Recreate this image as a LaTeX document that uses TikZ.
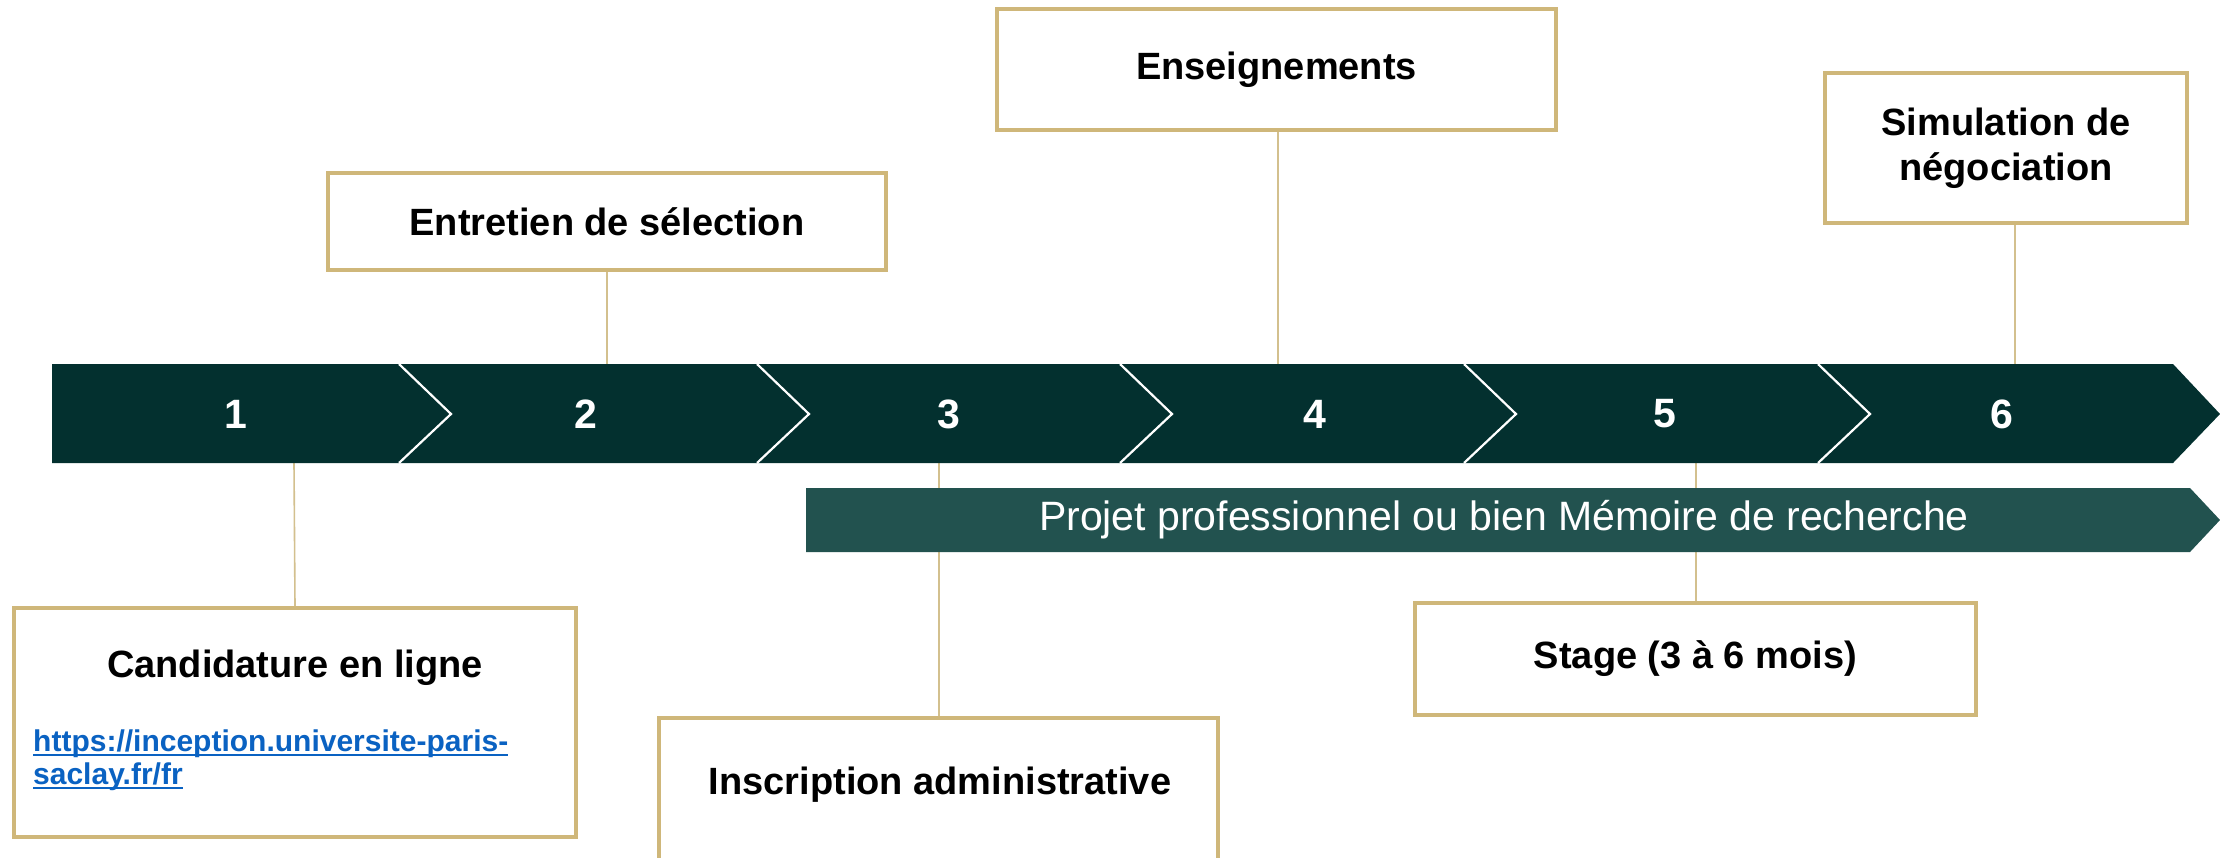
\documentclass[tikz,border=0pt]{standalone}
\usepackage{fontspec}
\setmainfont{Liberation Sans}
\usetikzlibrary{calc}
\definecolor{bardark}{HTML}{03302F}
\definecolor{barmid}{HTML}{22524F}
\definecolor{gold}{HTML}{CFB77A}
\definecolor{goldline}{HTML}{D3C08E}
\definecolor{linkblue}{HTML}{0A62C2}
\begin{document}
\begin{tikzpicture}[x=1pt,y=-1pt,
  box/.style={draw=gold, line width=4pt, fill=white, rectangle, inner sep=0pt,
    align=center, font=\fontsize{38}{45}\selectfont\bfseries},
  conn/.style={draw=goldline, line width=1.6pt},
  num/.style={text=white, font=\fontsize{41}{48}\selectfont\bfseries},
  sepline/.style={draw=white, line width=2.2pt},
  label/.style={font=\fontsize{38}{45}\selectfont\bfseries, inner sep=0pt},
  urltext/.style={inner sep=0pt, anchor=base west, text=linkblue,
    font=\fontsize{30}{33}\selectfont\bfseries},
  uline/.style={draw=linkblue, line width=2.5pt},
]
\clip (0,0) rectangle (2220,857);
\fill[white] (0,0) rectangle (2220,857);

% boxes
\node[box, minimum width=558, minimum height=97] (entretien) at (607,221.5) {Entretien de sélection};
\node[box, minimum width=559, minimum height=121] (enseign) at (1276.5,69.5) {Enseignements};
\node[box, minimum width=362, minimum height=150] (simul) at (2006,148) {Simulation de\\négociation};
\node[box, minimum width=562, minimum height=229] (candid) at (295,722.5) {};
\node[box, minimum width=559, minimum height=162] (inscr) at (938.5,799) {};
\node[box, minimum width=561, minimum height=112] (stage) at (1695.5,659) {Stage (3 à 6 mois)};

\node[label] (candidtitle) at (295,668) {Candidature en ligne};
\node[urltext] (url1) at (33,751) {https://inception.universite-paris-};
\node[urltext] (url2) at (33,784) {saclay.fr/fr};
\draw[uline] ([yshift=-4]url1.base west) -- ([yshift=-4]url1.base east);
\draw[uline] ([yshift=-4]url2.base west) -- ([yshift=-4]url2.base east);
\node[label] (inscrtext) at (940,785) {Inscription administrative};

% anchor points on the bars
\coordinate (c1) at (294,463);
\coordinate (c2) at (607,364);
\coordinate (c3) at (939,463);
\coordinate (c4) at (1278,364);
\coordinate (c5) at (1696,463);
\coordinate (c6) at (2015,364);

% connectors
\draw[conn] (candid.north) -- (c1);
\draw[conn] (entretien.south) -- (c2);
\draw[conn] (inscr.north -| c3) -- (c3);
\draw[conn] (enseign.south -| c4) -- (c4);
\draw[conn] (stage.north -| c5) -- (c5);
\draw[conn] (c6 |- simul.south) -- (c6);

% main bar
\fill[bardark] (52,364) -- (2173,364) -- (2220,414) -- (2173,463) -- (52,463) -- cycle;
\foreach \x in {399,757,1120,1464,1818}{
  \draw[sepline] (\x,364) -- (\x+52,414) -- (\x,463);
}

% second bar
\fill[barmid] (806,488) -- (2190,488) -- (2220,520) -- (2190,552) -- (806,552) -- cycle;
\node[text=white, font=\fontsize{41}{48}\selectfont, inner sep=0pt] (projet) at (1504,520)
  {Projet professionnel ou bien Mémoire de recherche};

% numbers
\node[num] (n1) at (236,414) {1};
\node[num] (n2) at (586,414) {2};
\node[num] (n3) at (949,414) {3};
\node[num] (n4) at (1315,414) {4};
\node[num] (n5) at (1665,414) {5};
\node[num] (n6) at (2002,414) {6};
\end{tikzpicture}
\end{document}
